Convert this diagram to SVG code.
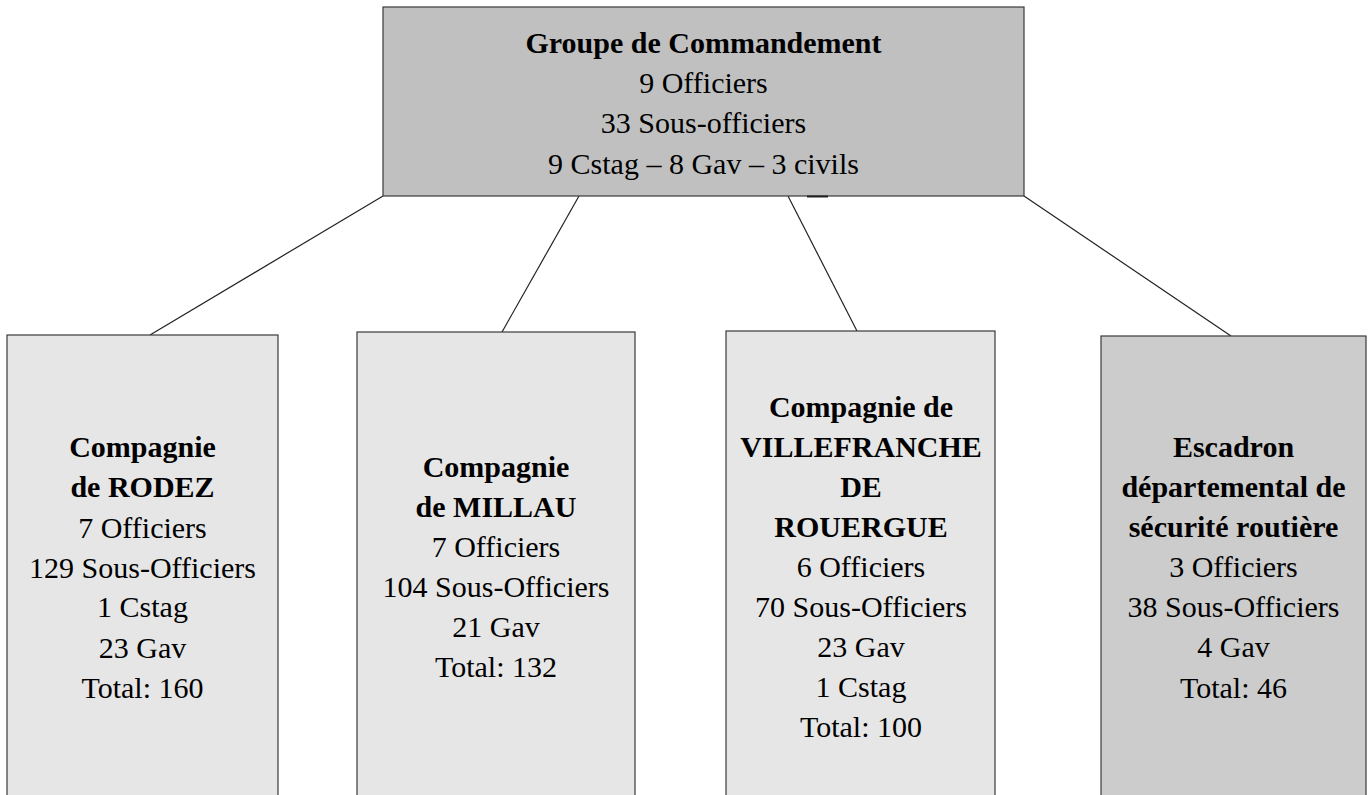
<svg xmlns="http://www.w3.org/2000/svg" width="1368" height="795" viewBox="0 0 1368 795">
<style>
.box{stroke:#3a3a3a;stroke-width:1.2}
.top{fill:#c0c0c0}
.lt{fill:#e6e6e6}
.dk{fill:#cccccc}
text{font-family:"Liberation Serif","Times New Roman",serif;font-size:30px;fill:#000;text-anchor:middle}
.b{font-weight:bold}
.conn line{stroke:#222;stroke-width:1.2}
</style>
<rect width="1368" height="795" fill="#ffffff"/>
<g id="connectors" class="conn">
<line x1="383" y1="196" x2="150" y2="335"/>
<line x1="579" y1="196" x2="502" y2="332"/>
<line x1="788" y1="196" x2="857" y2="331"/>
<line x1="1024" y1="196" x2="1231" y2="336"/>
</g>
<g id="groupe-commandement">
<rect class="box top" x="383" y="7" width="641" height="189"/>
<line x1="807" y1="196.5" x2="828" y2="196.5" stroke="#222" stroke-width="2"/>
<text class="b" x="703.5" y="53">Groupe de Commandement</text>
<text x="703.5" y="93">9 Officiers</text>
<text x="703.5" y="133">33 Sous-officiers</text>
<text x="703.5" y="174">9 Cstag – 8 Gav – 3 civils</text>
</g>
<g id="compagnie-rodez">
<rect class="box lt" x="7" y="335" width="271" height="470"/>
<text class="b" x="142.5" y="457">Compagnie</text>
<text class="b" x="142.5" y="497">de RODEZ</text>
<text x="142.5" y="538">7 Officiers</text>
<text x="142.5" y="578">129 Sous-Officiers</text>
<text x="142.5" y="617">1 Cstag</text>
<text x="142.5" y="658">23 Gav</text>
<text x="142.5" y="698">Total: 160</text>
</g>
<g id="compagnie-millau">
<rect class="box lt" x="357" y="332" width="278" height="473"/>
<text class="b" x="496" y="477">Compagnie</text>
<text class="b" x="496" y="517">de MILLAU</text>
<text x="496" y="557">7 Officiers</text>
<text x="496" y="597">104 Sous-Officiers</text>
<text x="496" y="637">21 Gav</text>
<text x="496" y="677">Total: 132</text>
</g>
<g id="compagnie-villefranche">
<rect class="box lt" x="726" y="331" width="269" height="474"/>
<text class="b" x="861" y="417">Compagnie de</text>
<text class="b" x="861" y="457">VILLEFRANCHE</text>
<text class="b" x="861" y="497">DE</text>
<text class="b" x="861" y="537">ROUERGUE</text>
<text x="861" y="577">6 Officiers</text>
<text x="861" y="617">70 Sous-Officiers</text>
<text x="861" y="657">23 Gav</text>
<text x="861" y="697">1 Cstag</text>
<text x="861" y="737">Total: 100</text>
</g>
<g id="escadron-securite-routiere">
<rect class="box dk" x="1101" y="336" width="265" height="469"/>
<text class="b" x="1233.5" y="457">Escadron</text>
<text class="b" x="1233.5" y="497">départemental de</text>
<text class="b" x="1233.5" y="537">sécurité routière</text>
<text x="1233.5" y="577">3 Officiers</text>
<text x="1233.5" y="617">38 Sous-Officiers</text>
<text x="1233.5" y="657">4 Gav</text>
<text x="1233.5" y="698">Total: 46</text>
</g>
</svg>
